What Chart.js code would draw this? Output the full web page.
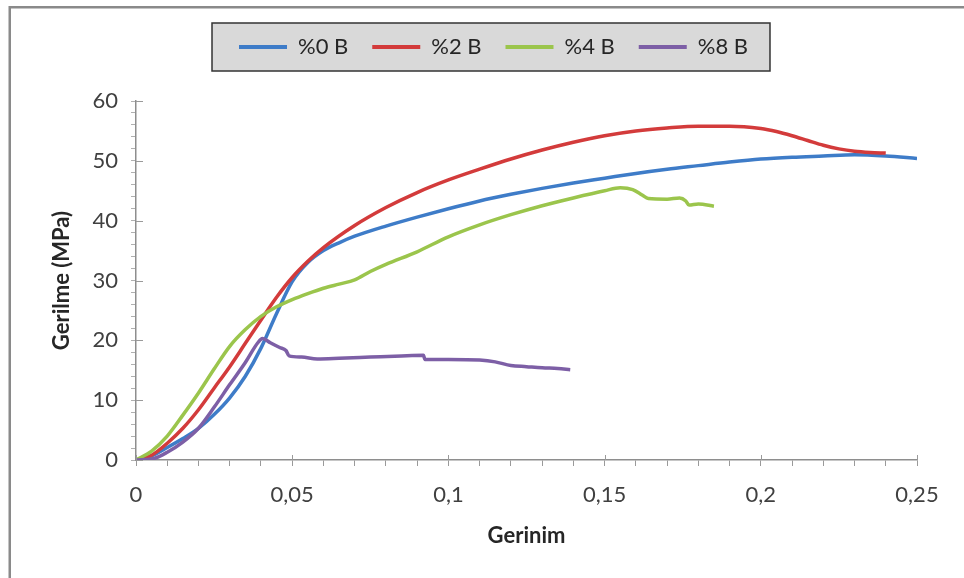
<!DOCTYPE html>
<html>
<head>
<meta charset="utf-8">
<title>Gerilme - Gerinim</title>
<script src="https://cdn.jsdelivr.net/npm/chart.js@4.4.1/dist/chart.umd.min.js"></script>
<style>
  html, body { margin: 0; padding: 0; background: #fff; }
</style>
</head>
<body>
<canvas id="chart" width="964" height="578"></canvas>
<script>
// Stress-strain curves, values

const seriesNames = ['%0 B', '%2 B', '%4 B', '%8 B'];
const seriesColors = ['#3e7cc8', '#d33b3b', '#9bc54c', '#7d5fa6'];

// %0 B
const strain0 = [0, 0.005, 0.01, 0.015, 0.02, 0.025, 0.03, 0.035, 0.04, 0.045, 0.05, 0.055, 0.06, 0.065, 0.07, 0.08, 0.09, 0.1, 0.11, 0.12, 0.13, 0.14, 0.15, 0.16, 0.17, 0.18, 0.19, 0.2, 0.21, 0.22, 0.23, 0.24, 0.25];
const stress0 = [0, 0.7, 2.1, 3.6, 5.3, 7.6, 10.4, 14, 18.7, 24.5, 29.8, 33, 35, 36.3, 37.4, 39.1, 40.6, 42, 43.3, 44.4, 45.4, 46.3, 47.1, 47.9, 48.6, 49.2, 49.8, 50.3, 50.6, 50.8, 51, 50.8, 50.4];

// %2 B
const strain2 = [0, 0.005, 0.01, 0.015, 0.02, 0.025, 0.03, 0.035, 0.04, 0.045, 0.05, 0.055, 0.06, 0.07, 0.08, 0.09, 0.1, 0.11, 0.12, 0.13, 0.14, 0.15, 0.16, 0.17, 0.18, 0.19, 0.2, 0.205, 0.21, 0.215, 0.22, 0.225, 0.23, 0.235, 0.24];
const stress2 = [0, 0.8, 2.8, 5.3, 8.4, 12, 15.6, 19.5, 23.4, 27.2, 30.5, 33.2, 35.5, 39.2, 42.2, 44.7, 46.8, 48.6, 50.3, 51.8, 53.1, 54.2, 55, 55.5, 55.8, 55.8, 55.4, 54.9, 54.2, 53.4, 52.6, 52, 51.6, 51.4, 51.3];

// %4 B
const strain4 = [0, 0.005, 0.01, 0.015, 0.02, 0.025, 0.03, 0.035, 0.04, 0.045, 0.05, 0.055, 0.06, 0.065, 0.07, 0.075, 0.08, 0.09, 0.1, 0.11, 0.12, 0.13, 0.14, 0.15, 0.155, 0.159, 0.162, 0.164, 0.17, 0.174, 0.176, 0.177, 0.18, 0.185];
const stress4 = [0, 1.5, 4, 7.5, 11.2, 15.2, 19, 21.8, 24, 25.6, 26.8, 27.8, 28.7, 29.4, 30.1, 31.5, 32.7, 34.8, 37.3, 39.3, 41, 42.5, 43.8, 45, 45.5, 45.2, 44.3, 43.7, 43.6, 43.8, 43.3, 42.6, 42.8, 42.4];

// %8 B
const strain8 = [0, 0.006, 0.01, 0.015, 0.02, 0.025, 0.03, 0.035, 0.039, 0.0405, 0.043, 0.046, 0.048, 0.049, 0.053, 0.058, 0.065, 0.075, 0.085, 0.092, 0.0925, 0.1, 0.11, 0.115, 0.12, 0.125, 0.13, 0.135, 0.139];
const stress8 = [0, 0.3, 1.3, 3, 5.3, 8.8, 12.6, 16.3, 19.6, 20.3, 19.6, 18.8, 18.3, 17.4, 17.2, 16.9, 17, 17.2, 17.4, 17.5, 16.8, 16.8, 16.7, 16.4, 15.8, 15.6, 15.4, 15.3, 15.1];

// axis ticks
const xMajorTicks = [0, 0.05, 0.1, 0.15, 0.2, 0.25];
const xTickLabels = ['0', '0,05', '0,1', '0,15', '0,2', '0,25'];
const yMajorTicks = [0, 10, 20, 30, 40, 50, 60];
const yTickLabels = ['0', '10', '20', '30', '40', '50', '60'];

const allStrain = [strain0, strain2, strain4, strain8];
const allStress = [stress0, stress2, stress4, stress8];

const FONT = 'Lato, "Open Sans", sans-serif';
const AXIS_GRAY = '#8e8e8e';

function pickLabel(ticks, labels, v) {
  const i = ticks.findIndex(t => Math.abs(t - v) < 1e-6);
  return i >= 0 ? labels[i] : '';
}

// white page, left/top frame line, grey legend box and inner halves of major ticks
const framePlugin = {
  id: 'frame',
  beforeLayout(chart) {
    const lg = chart.legend;
    if (lg && !lg._patched) {
      const fit = lg.fit;
      lg.fit = function () { fit.call(this); this.height = 89; };
      lg._patched = true;
    }
  },
  afterLayout(chart) {
    chart.legend.left += 30;
    chart.legend.right += 30;
  },
  beforeDraw(chart) {
    const ctx = chart.ctx;
    ctx.save();
    ctx.fillStyle = '#fff';
    ctx.fillRect(0, 0, chart.width, chart.height);
    ctx.strokeStyle = '#8a8a8a';
    ctx.lineWidth = 2.5;
    ctx.beginPath();
    ctx.moveTo(9.75, chart.height + 5);
    ctx.lineTo(9.75, 7.25);
    ctx.lineTo(chart.width + 5, 7.25);
    ctx.stroke();
    const hb = chart.legend.legendHitBoxes;
    if (hb && hb.length) {
      const l = Math.min(...hb.map(h => h.left)) - 27;
      const r = Math.max(...hb.map(h => h.left + h.width)) + 22;
      const t = hb[0].top - 13;
      const b = hb[0].top + hb[0].height + 13;
      ctx.fillStyle = '#d9d9d9';
      ctx.fillRect(l, t, r - l, b - t);
      ctx.strokeStyle = '#333';
      ctx.lineWidth = 1.5;
      ctx.strokeRect(l, t, r - l, b - t);
    }
    ctx.restore();
  },
  afterDraw(chart) {
    const { ctx, scales: { x, y } } = chart;
    ctx.save();
    ctx.strokeStyle = '#9a9a9a';
    ctx.lineWidth = 1;
    ctx.beginPath();
    const y0 = y.getPixelForValue(0);
    xMajorTicks.forEach(v => {
      const px = Math.round(x.getPixelForValue(v)) + 0.5;
      ctx.moveTo(px, y0); ctx.lineTo(px, y0 - 5);
    });
    const x0 = x.getPixelForValue(0);
    yMajorTicks.forEach(v => {
      const py = Math.round(y.getPixelForValue(v)) + 0.5;
      ctx.moveTo(x0, py); ctx.lineTo(x0 + 7, py);
    });
    ctx.stroke();
    ctx.restore();
  }
};

const datasets = seriesNames.map((name, i) => ({
  label: name,
  data: allStrain[i].map((s, k) => ({ x: s, y: allStress[i][k] })),
  borderColor: seriesColors[i],
  backgroundColor: seriesColors[i],
  borderWidth: 3.5,
  pointRadius: 0,
  cubicInterpolationMode: 'monotone',
  fill: false,
  order: seriesNames.length - i   // later series drawn on top, like the original
}));

new Chart(document.getElementById('chart'), {
  type: 'line',
  data: { datasets },
  plugins: [framePlugin],
  options: {
    responsive: false,
    animation: false,
    devicePixelRatio: 1,
    layout: { padding: { left: 10, right: 47, top: 12, bottom: 0 } },
    plugins: {
      tooltip: { enabled: false },
      legend: {
        position: 'top',
        labels: {
          font: { family: FONT, size: 22 },
          color: '#262626',
          boxWidth: 48,
          boxHeight: 4,
          padding: 24,
          sort: (a, b) => a.datasetIndex - b.datasetIndex,
          generateLabels: (chart) => Chart.defaults.plugins.legend.labels.generateLabels(chart)
            .map(it => ({ ...it, lineWidth: 0, fillStyle: seriesColors[it.datasetIndex] }))
        }
      }
    },
    scales: {
      x: {
        type: 'linear',
        min: 0,
        max: 0.25,
        afterFit: (s) => { s.height = 118; },
        ticks: {
          stepSize: 0.01,
          autoSkip: false,
          maxRotation: 0,
          padding: 16,
          color: '#404040',
          font: { family: FONT, size: 22 },
          callback: (v) => pickLabel(xMajorTicks, xTickLabels, v)
        },
        grid: { drawOnChartArea: false, tickLength: 6, color: '#9a9a9a' },
        border: { color: AXIS_GRAY, width: 1.5 },
        title: {
          display: true,
          text: 'Gerinim',
          color: '#262626',
          font: { family: FONT, size: 22, weight: 'bold' },
          padding: { top: 0, bottom: 29 }
        }
      },
      y: {
        min: 0,
        max: 60,
        afterFit: (s) => { s.width = 126; },
        ticks: {
          stepSize: 2,
          autoSkip: false,
          padding: 13,
          color: '#404040',
          font: { family: FONT, size: 22 },
          callback: (v) => pickLabel(yMajorTicks, yTickLabels, v)
        },
        grid: { drawOnChartArea: false, tickLength: 5, color: '#b0b0b0' },
        border: { color: AXIS_GRAY, width: 1.5 },
        title: {
          display: true,
          text: 'Gerilme (MPa)',
          color: '#262626',
          font: { family: FONT, size: 22, weight: 'bold' },
          padding: { top: 39, bottom: 0 }
        }
      }
    }
  }
});
</script>
</body>
</html>
